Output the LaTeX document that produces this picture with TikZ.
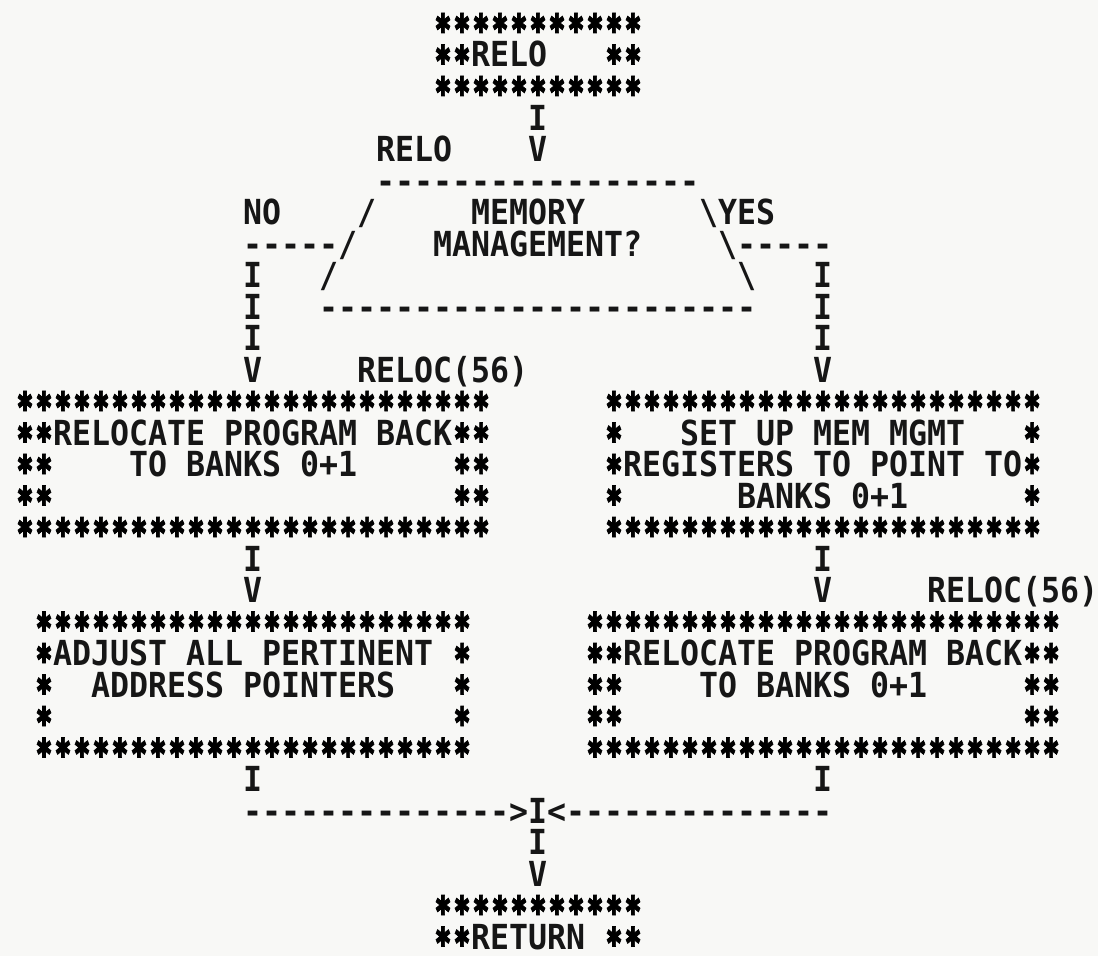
\documentclass[tikz,border=0pt]{standalone}
\usepackage{fontspec}
\usepackage{graphicx}
\newfontfamily\plot[FakeStretch=0.915]{DejaVu Sans Mono Bold}
\newfontfamily\starfont[FakeBold=3]{DejaVu Sans Bold}
\newcommand\plotfont{\plot\fontsize{34.5}{31.5}\selectfont}
\newlength\cw
\newsavebox\stbox
\AtBeginDocument{\settowidth\cw{\plotfont M}\sbox\stbox{\starfont\char"2731}}
\newcommand\sr{\makebox[\cw][c]{\raisebox{2.5pt}{\resizebox*{16.5pt}{20pt}{\raisebox{\dp\stbox}{\usebox\stbox}}}}}
\newcommand\srs[1]{\foreach\ii in {1,...,#1}{\sr}}
\newcommand\dsh[1]{\foreach\ii in {1,...,#1}{\hbox{-}}}
\newcommand\sps[1]{\kern#1\cw}
\newcommand\lin[1]{\hbox{#1}}
\newcommand\rows[1]{\vtop{\baselineskip=31.5pt\lineskiplimit=-\maxdimen\lineskip=0pt\relax#1}}
\definecolor{ink}{RGB}{22,22,22}
\definecolor{paper}{RGB}{248,248,246}
\tikzset{txt/.style={inner sep=0pt, outer sep=0pt, anchor=base west, font=\plotfont, text=ink}}
\begin{document}
\begin{tikzpicture}[x={(19pt,0pt)}, y={(0pt,-31.5pt)}]
\fill[paper] (0,0) rectangle (57.789,30.349);
\useasboundingbox (0,0) rectangle (57.789,30.349);
\begin{scope}[shift={(0.8158,1.127)}]
% start box
\node[txt] (relo) at (22,0) {\rows{\lin{\srs{11}}\lin{\srs{2}RELO\sps{3}\srs{2}}\lin{\srs{11}}}};
\node[txt] (c1) at (27,3) {\rows{\lin{I}\lin{V}}};
\node[txt] (relolbl) at (19,4) {RELO};
% decision
\node[txt] (dec) at (16,5) {\rows{%
 \lin{\sps{3}\dsh{17}}%
 \lin{\sps{2}/\sps{5}MEMORY\sps{6}\textbackslash}%
 \lin{\sps{1}/\sps{4}MANAGEMENT?\sps{4}\textbackslash}%
 \lin{/\sps{21}\textbackslash}%
 \lin{\dsh{23}}}};
\node[txt] (nolbl) at (12,6) {NO};
\node[txt] (yeslbl) at (37,6) {YES};
\node[txt] (cno) at (12,7) {\rows{\lin{\dsh{5}}\lin{I}\lin{I}\lin{I}\lin{V}}};
\node[txt] (cyes) at (38,7) {\rows{\lin{\dsh{5}}\lin{\sps{4}I}\lin{\sps{4}I}\lin{\sps{4}I}\lin{\sps{4}V}}};
\node[txt] (reloca) at (18,11) {RELOC(56)};
% first row of boxes
\node[txt] (boxla) at (0,12) {\rows{%
 \lin{\srs{25}}%
 \lin{\srs{2}RELOCATE\sps{1}PROGRAM\sps{1}BACK\srs{2}}%
 \lin{\srs{2}\sps{4}TO\sps{1}BANKS\sps{1}0+1\sps{5}\srs{2}}%
 \lin{\srs{2}\sps{21}\srs{2}}%
 \lin{\srs{25}}}};
\node[txt] (boxra) at (31,12) {\rows{%
 \lin{\srs{23}}%
 \lin{\sr\sps{3}SET\sps{1}UP\sps{1}MEM\sps{1}MGMT\sps{3}\sr}%
 \lin{\sr REGISTERS\sps{1}TO\sps{1}POINT\sps{1}TO\sr}%
 \lin{\sr\sps{6}BANKS\sps{1}0+1\sps{6}\sr}%
 \lin{\srs{23}}}};
\node[txt] (cla) at (12,17) {\rows{\lin{I}\lin{V}}};
\node[txt] (cra) at (42,17) {\rows{\lin{I}\lin{V}}};
\node[txt] (relocb) at (48,18) {RELOC(56)};
% second row of boxes
\node[txt] (boxlb) at (1,19) {\rows{%
 \lin{\srs{23}}%
 \lin{\sr ADJUST\sps{1}ALL\sps{1}PERTINENT\sps{1}\sr}%
 \lin{\sr\sps{2}ADDRESS\sps{1}POINTERS\sps{3}\sr}%
 \lin{\sr\sps{21}\sr}%
 \lin{\srs{23}}}};
\node[txt] (boxrb) at (30,19) {\rows{%
 \lin{\srs{25}}%
 \lin{\srs{2}RELOCATE\sps{1}PROGRAM\sps{1}BACK\srs{2}}%
 \lin{\srs{2}\sps{4}TO\sps{1}BANKS\sps{1}0+1\sps{5}\srs{2}}%
 \lin{\srs{2}\sps{21}\srs{2}}%
 \lin{\srs{25}}}};
% merge
\node[txt] (mergel) at (12,24) {\rows{\lin{I}\lin{\dsh{14}>}}};
\node[txt] (merger) at (28,24) {\rows{\lin{\sps{14}I}\lin{<\dsh{14}}}};
\node[txt] (join) at (27,25) {\rows{\lin{I}\lin{I}\lin{V}}};
% end box
\node[txt] (ret) at (22,28) {\rows{\lin{\srs{11}}\lin{\srs{2}RETURN\sps{1}\srs{2}}}};
\end{scope}
\end{tikzpicture}
\end{document}
